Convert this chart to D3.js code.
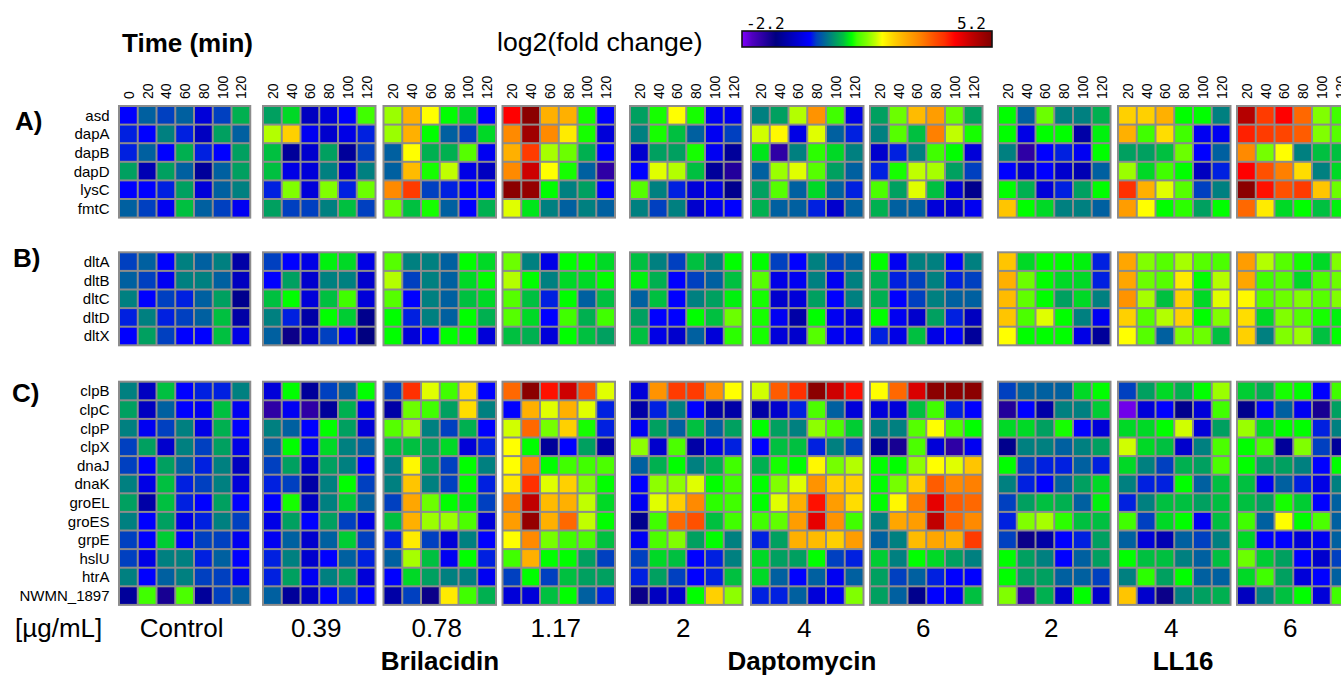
<!DOCTYPE html>
<html>
<head>
<meta charset="utf-8">
<script src="https://cdn.jsdelivr.net/npm/d3@7"></script>
<style>
  html, body { margin: 0; padding: 0; background: #fff; overflow: hidden; }
  svg { display: block; }
</style>
</head>
<body>
<div id="chart"></div>
<script>
// ---------------- DATA ----------------
const genesA = ["asd", "dapA", "dapB", "dapD", "lysC", "fmtC"];
const genesB = ["dltA", "dltB", "dltC", "dltD", "dltX"];
const genesC = ["clpB", "clpC", "clpP", "clpX", "dnaJ", "dnaK", "groEL", "groES", "grpE", "hslU", "htrA", "NWMN_1897"];
const timesControl = [0, 20, 40, 60, 80, 100, 120];
const timesTreated = [20, 40, 60, 80, 100, 120];
const concLabels = ["Control", "0.39", "0.78", "1.17", "2", "4", "6", "2", "4", "6"];
const drugNames = ["Brilacidin", "Daptomycin", "LL16"];
const scaleMin = -2.2, scaleMax = 5.2;

// log2(fold change), rows = genesA, genesB, genesC (23 rows), columns = time points
const control = [
  [-0.2, 0.2, 0.0, 0.2, -0.5, 0.0, 0.7],
  [-0.1, -0.2, 0.4, -0.1, -0.7, 0.6, 0.2],
  [-0.1, 0.2, -0.2, 0.7, -0.1, -0.2, 0.6],
  [0.6, -0.8, 0.6, 0.2, -1.0, 0.2, 0.6],
  [-0.2, -0.2, -0.1, 0.6, -0.5, 0.2, 0.4],
  [0.2, 0.0, -0.3, 0.8, 0.2, 0.0, -0.3],
  [0.0, 0.2, -0.2, 0.4, 0.2, 0.4, -0.9],
  [0.2, 0.0, -0.3, 0.4, 0.4, 0.2, -0.7],
  [0.4, -0.2, 0.0, -0.1, 0.2, 0.6, -1.1],
  [-0.1, 0.4, -0.1, 0.0, 0.2, 0.8, -0.9],
  [-0.2, 0.6, 0.0, -0.2, -0.2, 0.8, -0.4],
  [0.4, -0.7, 0.8, -0.2, -0.1, -0.1, 0.4],
  [0.6, -0.7, 0.2, -0.2, -0.3, 0.8, -0.3],
  [0.4, -0.3, 0.0, 0.4, -0.4, 0.7, -0.2],
  [0.0, 0.6, -0.6, 0.4, 0.0, 0.6, -0.4],
  [0.0, -0.2, 0.6, 0.2, -0.1, 0.4, -0.7],
  [0.4, -0.4, 0.8, -0.1, 0.0, 0.4, -0.5],
  [0.6, -0.9, 0.8, -0.1, -0.2, 0.6, -0.2],
  [0.4, -0.2, 0.6, -0.4, -0.1, 0.4, 0.0],
  [0.0, -0.2, 0.85, -0.2, 0.0, 0.0, -0.3],
  [0.0, -0.4, 0.4, 0.4, -0.1, 0.2, -0.2],
  [0.4, -0.2, 0.2, 0.4, 0.0, 0.0, -0.3],
  [-1.0, 1.2, -1.4, 1.25, -1.0, 0.0, 0.2]
];
const bril039 = [
  [0.6, 0.9, -0.7, -0.5, -0.2, 1.2],
  [1.7, 2.3, -0.3, -0.6, -0.4, -0.1],
  [0.8, -1.0, -0.6, 0.6, -1.0, 0.0],
  [0.8, -0.4, -0.5, 0.4, -0.6, 0.4],
  [-0.1, 1.5, -0.5, 1.5, -0.1, 1.4],
  [0.6, 0.0, 0.0, 0.4, 0.8, 0.0],
  [0.0, -0.2, -0.4, 1.0, 0.9, -0.4],
  [-0.2, 0.6, -0.6, 0.4, 0.4, -0.6],
  [0.8, 1.05, -0.5, 0.8, 1.2, -0.5],
  [0.4, -0.1, -0.9, 1.05, 0.85, -1.1],
  [0.2, -1.3, -0.7, 0.0, -0.3, -1.2],
  [-0.5, 1.05, -1.0, 0.0, 0.2, 1.05],
  [-1.6, -0.3, -1.6, -1.0, 0.7, -0.4],
  [0.4, 0.2, -0.2, 1.05, 0.6, -0.5],
  [0.2, 1.05, -0.3, 0.9, 0.4, 0.2],
  [0.0, 0.6, -0.6, 0.6, 0.4, -0.2],
  [-0.1, 0.0, -0.9, 0.4, 1.05, 0.0],
  [-0.2, 1.1, -0.7, 0.4, 0.85, 0.2],
  [-0.4, 0.6, -0.2, 0.6, 0.0, -0.4],
  [-0.3, 0.2, -0.6, 0.2, 0.85, 0.0],
  [-0.1, 0.4, -0.6, -0.2, 0.2, -0.1],
  [-0.1, 0.6, -0.3, 0.4, 0.6, -0.5],
  [0.2, -1.0, -0.7, -0.2, 0.0, -0.2]
];
const bril078 = [
  [1.6, 2.6, 1.95, 1.05, 0.9, -0.2],
  [1.6, 2.6, 1.05, 0.2, 0.0, 0.9],
  [0.2, 1.95, 0.7, 0.7, 1.3, -0.3],
  [0.2, 2.5, 1.1, 1.75, -0.4, -0.7],
  [3.0, 3.7, 0.0, -0.1, -0.2, -0.2],
  [1.4, 0.8, 1.1, 0.2, -0.2, 0.7],
  [1.3, 0.4, 0.4, 0.2, 1.05, 0.9],
  [1.7, 0.0, 0.4, 0.2, 0.9, 1.05],
  [1.3, -0.2, 0.4, 0.2, 0.8, 0.9],
  [1.05, -0.1, 0.4, 0.2, 1.05, 0.7],
  [1.05, -0.5, -0.2, 1.05, 1.05, -0.5],
  [0.0, 3.8, 1.85, 1.2, 2.2, -0.2],
  [-0.9, 1.4, 1.2, 0.6, 2.2, 0.4],
  [1.3, 1.6, 0.4, 0.0, 0.7, -0.2],
  [0.8, 0.8, 0.6, 0.9, -0.5, -0.1],
  [0.4, 2.0, 0.6, 0.0, 1.05, 0.4],
  [0.4, 2.4, 0.4, 0.0, 1.05, -0.1],
  [0.0, 2.7, 1.4, 1.05, 1.0, 0.0],
  [0.8, 2.6, 1.6, 1.6, 1.25, -0.5],
  [-0.1, 2.1, 0.0, -0.5, 0.4, -0.2],
  [0.2, 1.65, 0.8, -0.3, 1.05, -0.1],
  [-0.2, 0.9, 0.6, 0.4, 0.4, -0.3],
  [-0.9, 0.0, -1.3, 2.1, 1.2, 0.7]
];
const bril117 = [
  [4.1, 5.1, 2.6, 2.6, 1.1, -0.2],
  [3.0, 4.9, 3.0, 2.1, 1.1, -0.5],
  [2.6, 3.7, 1.65, 1.4, 0.7, -0.2],
  [3.0, 4.5, 1.95, 1.1, 0.2, -1.6],
  [5.1, 5.0, 1.05, 0.4, 0.6, -0.2],
  [1.85, 0.95, 0.4, 0.2, 0.4, 0.2],
  [1.4, 0.4, -0.4, 1.05, 1.05, 0.9],
  [1.7, 1.05, 0.4, 0.9, 0.9, 1.05],
  [1.3, 0.8, -0.1, 1.05, 0.2, 0.8],
  [1.3, 0.9, -0.2, 1.2, 0.7, 1.2],
  [0.8, 0.7, -0.5, 1.05, 0.8, 0.6],
  [3.3, 5.1, 4.0, 4.5, 3.5, 1.85],
  [-0.2, 2.6, 1.85, 2.6, 1.85, -0.1],
  [1.8, 3.3, 1.45, 2.3, 1.1, -0.1],
  [1.95, 1.05, -1.0, -0.2, 0.6, -0.9],
  [1.95, 3.0, 1.05, 1.2, 1.2, 1.25],
  [2.1, 3.8, 1.85, 2.3, 1.5, 1.05],
  [3.0, 4.6, 2.5, 2.6, 1.75, 0.9],
  [2.8, 5.0, 2.6, 3.3, 1.75, 1.05],
  [1.95, 3.0, 1.45, 1.2, 1.25, 0.8],
  [1.2, 2.6, 1.05, 1.05, 0.6, 0.0],
  [0.0, 1.05, 0.0, 0.8, 0.6, 0.6],
  [-0.5, -0.5, 0.8, 1.05, 0.2, -0.1]
];
const dapto2 = [
  [0.6, 1.1, 1.95, 1.1, -0.3, -0.3],
  [0.4, 1.1, 0.8, 0.2, -0.3, 0.0],
  [-0.6, 0.6, 0.6, 1.1, -0.3, -1.0],
  [-0.2, 1.85, 1.7, 0.8, -1.0, -1.5],
  [1.3, 0.4, -0.1, -0.5, -0.4, -1.1],
  [0.4, 0.0, 0.4, -0.6, -0.3, -0.2],
  [0.8, 0.4, 0.0, 0.8, 0.4, 1.05],
  [1.0, 0.7, -0.2, 0.0, 0.2, 0.8],
  [0.2, 0.8, -0.2, 0.4, 0.6, 1.0],
  [0.6, -0.2, -0.2, 1.05, 0.8, 1.4],
  [0.8, -0.4, -0.6, 0.2, -0.5, 1.15],
  [-0.5, 2.9, 3.7, 3.7, 2.9, 1.95],
  [-0.9, -0.1, 0.4, -0.2, -0.9, -0.9],
  [-0.3, 0.6, 0.2, 0.8, 0.2, 0.6],
  [1.55, -0.6, 1.25, -0.9, -0.4, -0.1],
  [0.2, 0.7, 1.05, 0.4, 0.7, 1.2],
  [-0.2, 1.55, 1.55, 1.85, 1.05, 1.2],
  [-0.3, 1.85, 2.3, 3.0, 1.15, 1.2],
  [-1.1, 1.2, 3.3, 3.5, 0.8, 1.2],
  [-0.3, 1.25, 1.5, 0.6, 1.05, 0.4],
  [0.0, 0.9, 0.8, -0.2, -0.1, 0.4],
  [-0.1, 0.6, 0.0, -0.2, -0.1, 0.8],
  [-1.3, -0.7, -0.6, 1.05, 2.3, 1.55]
];
const dapto4 = [
  [0.4, 0.6, 1.7, 2.9, 1.2, -0.4],
  [1.8, 2.0, -0.4, 1.85, 0.2, -0.1],
  [0.95, -1.6, 0.4, 1.15, 0.9, 0.4],
  [0.2, 1.6, 1.85, 1.3, 0.6, 0.2],
  [0.6, 1.3, 0.2, 0.9, 0.2, -0.1],
  [0.7, 0.2, 0.2, -0.1, -0.6, 0.2],
  [1.05, 0.0, -0.2, 0.4, 0.0, 0.2],
  [1.3, -0.4, -0.3, 0.4, -0.3, 0.4],
  [1.1, -0.6, -0.5, 0.6, -0.2, 0.4],
  [1.1, -0.3, -0.9, 1.05, -0.3, -0.5],
  [1.1, -0.5, -0.6, 1.3, -0.3, -0.3],
  [1.8, 3.4, 3.8, 5.1, 4.5, 4.0],
  [-0.9, -0.6, -0.1, 1.25, 0.2, -0.5],
  [1.05, 0.6, 0.4, 1.55, 1.25, 0.85],
  [-0.2, 0.8, 0.8, -0.1, 0.4, 0.0],
  [0.7, 1.1, 1.05, 2.0, 1.45, 1.7],
  [1.05, 1.5, 1.85, 2.9, 2.3, 2.3],
  [1.05, 1.85, 2.6, 4.0, 2.8, 2.2],
  [1.2, 1.35, 2.8, 4.3, 2.9, 1.2],
  [-0.1, 0.6, 2.6, 2.5, 2.3, 2.8],
  [0.9, 0.6, 0.6, 1.05, 0.0, -0.1],
  [0.9, 0.2, -0.2, 0.2, -0.3, 0.2],
  [-0.1, -0.1, 0.2, -0.5, -0.3, 1.5]
];
const dapto6 = [
  [0.6, 1.4, 2.5, 2.8, 1.4, 0.6],
  [0.4, 1.3, 0.8, 3.1, 1.75, 1.1],
  [-0.6, -0.1, 0.4, 1.2, 1.05, -0.5],
  [-0.1, 1.1, 1.75, 1.65, 0.6, 0.0],
  [1.25, 0.6, 1.85, 0.8, -0.5, -1.1],
  [0.7, 0.2, 0.2, -0.5, -0.6, -0.3],
  [1.05, -0.3, 0.4, 0.4, -0.2, 0.4],
  [0.7, -0.1, 0.0, 0.4, -0.1, 0.0],
  [0.7, -0.2, 0.0, 0.4, 0.2, 0.2],
  [1.05, -0.3, -0.6, 0.6, -0.1, -0.7],
  [-0.1, -0.4, 0.8, -0.4, -0.2, -1.0],
  [1.95, 3.3, 4.4, 5.1, 5.1, 5.1],
  [-0.5, -0.5, 0.8, 1.2, -0.1, -0.2],
  [0.4, 0.4, 1.3, 1.95, 1.25, 1.05],
  [-1.0, -1.4, 1.25, -0.5, -1.6, -0.3],
  [1.05, 1.05, 1.55, 1.95, 1.85, 2.4],
  [1.05, 1.45, 2.3, 3.4, 3.0, 3.1],
  [1.05, 2.0, 3.1, 4.3, 3.4, 3.3],
  [0.4, 2.7, 2.8, 4.6, 3.3, 3.0],
  [0.2, 0.4, 2.5, 2.7, 2.6, 3.7],
  [0.85, 0.4, 1.05, 0.9, 0.6, 0.4],
  [0.6, 0.0, 0.2, -0.1, -0.2, -0.2],
  [0.6, 0.2, -1.1, -0.2, -0.3, 0.8]
];
const ll16_2 = [
  [1.05, 0.2, 1.4, 0.4, 0.4, 0.7],
  [1.05, -0.4, 1.05, 1.05, -0.9, 1.0],
  [0.4, -1.6, -0.2, -0.1, -0.3, 1.05],
  [-0.2, -0.6, -0.2, -0.6, -0.8, 0.2],
  [1.05, 0.7, -0.5, -0.1, 0.6, 1.05],
  [2.4, 1.05, 0.9, 0.4, 0.4, 0.2],
  [2.4, 0.9, 1.05, 1.05, 1.0, -0.1],
  [2.6, 1.4, 1.05, 0.9, 0.9, -0.1],
  [2.5, 1.35, 1.05, 0.6, 0.9, 0.4],
  [2.4, 1.25, 1.85, 1.05, 0.4, -0.3],
  [1.95, 1.05, 1.05, 1.05, -0.4, -1.0],
  [0.0, 0.2, 0.2, 0.2, 0.9, 1.05],
  [-1.5, -0.2, -0.9, 0.4, 0.4, 0.85],
  [0.9, 0.9, 0.6, 1.1, -0.2, -0.5],
  [-1.1, 0.4, 0.4, 0.2, 0.4, 0.6],
  [1.05, 0.0, -0.1, -0.1, 0.2, -0.1],
  [0.4, -0.1, -0.2, 0.2, 0.6, 0.9],
  [0.0, 0.6, 0.8, 0.7, 0.2, 1.0],
  [-0.1, 1.5, 1.65, 1.15, 0.8, 0.8],
  [0.0, -1.3, -0.9, -0.2, -0.1, 0.6],
  [1.05, 0.6, 0.4, -0.2, 0.2, 0.6],
  [1.05, 0.6, 0.6, 0.2, 0.2, 0.0],
  [1.5, -1.6, 0.7, -0.6, 1.05, -0.6]
];
const ll16_4 = [
  [2.3, 2.3, 2.6, 1.05, 1.05, 0.4],
  [2.6, 1.2, 2.2, 1.2, -0.3, -0.3],
  [0.6, 0.6, 0.8, 1.4, -0.2, 0.2],
  [1.6, 0.9, 1.2, 1.05, -0.7, -0.1],
  [3.8, 2.6, 1.85, 1.3, 0.0, 0.4],
  [2.8, 1.95, 1.05, 1.15, 0.6, 1.05],
  [2.7, 1.5, 1.3, 1.65, 1.3, 1.25],
  [2.7, 1.4, 1.3, 2.1, 1.05, 1.7],
  [2.9, 1.65, 0.8, 2.3, 0.9, 1.85],
  [2.3, 1.3, 1.7, 2.3, 1.05, 1.5],
  [1.95, 1.3, 0.2, 1.5, 1.4, 0.8],
  [0.0, 0.6, 0.9, 0.7, 1.05, 1.6],
  [-2.1, -0.5, -0.2, -1.1, -0.5, 1.2],
  [0.9, 0.9, 1.05, 1.8, -0.5, 0.6],
  [1.8, 0.9, 0.8, -0.6, 0.4, 1.25],
  [0.9, 0.4, 0.0, 0.7, 0.6, 1.25],
  [0.4, -0.1, -0.1, 1.05, 0.2, 0.8],
  [-0.1, 0.4, 0.8, 0.8, 0.6, 0.8],
  [1.2, 0.0, 0.9, 1.05, -0.3, 0.8],
  [0.2, -0.5, -0.8, 0.2, 0.0, 0.4],
  [1.05, 0.8, 0.8, 0.4, 0.2, 0.8],
  [0.4, 1.15, 0.6, 1.05, 0.2, 0.2],
  [2.4, -0.6, -1.3, 0.4, 0.6, 0.7]
];
const ll16_6 = [
  [4.7, 3.7, 4.1, 3.3, 1.5, 1.2],
  [3.9, 3.7, 3.6, 3.4, 1.5, 1.3],
  [3.0, 1.45, 1.95, 0.4, 0.8, 0.8],
  [4.1, 3.5, 3.1, 2.2, 0.4, 0.9],
  [5.1, 4.0, 3.5, 3.7, 2.4, 1.4],
  [3.3, 2.1, 0.9, 1.05, 0.8, 1.0],
  [2.8, 1.7, 1.3, 1.1, 0.9, 1.5],
  [2.7, 1.2, 1.3, 0.9, 1.25, 1.4],
  [2.0, 1.3, 1.4, 1.5, 1.3, 1.5],
  [2.2, 0.9, 1.5, 1.3, 1.1, 1.0],
  [2.3, 0.4, 1.5, 1.6, 0.8, 1.05],
  [0.85, 0.7, 1.1, 1.05, -0.2, 1.2],
  [-1.1, -0.2, 0.2, -0.3, -1.4, 0.6],
  [1.6, 0.9, 1.05, 1.05, -0.1, 0.4],
  [1.05, 1.25, -1.0, 1.5, 0.0, -1.0],
  [1.05, 0.6, 0.6, 0.4, -0.2, 1.05],
  [0.8, -0.3, 0.2, -0.1, -0.4, 0.4],
  [0.8, 0.6, 1.1, 0.85, -0.2, 0.2],
  [1.2, 0.2, 1.95, 1.05, 1.25, 0.2],
  [0.9, -0.2, -0.2, -0.5, -0.3, 0.2],
  [1.4, 0.85, 0.6, -0.2, -0.6, 0.0],
  [0.9, 1.2, 0.6, -0.5, -0.2, 0.2],
  [-0.7, 0.4, 0.8, 1.05, -0.5, 1.2]
];

// ---------------- LAYOUT / STYLE ----------------
const W = 1341, H = 675;
const panelData = [control, bril039, bril078, bril117, dapto2, dapto4, dapto6, ll16_2, ll16_4, ll16_6];
const panelLeft = [119, 263, 383.5, 502.5, 630, 751, 870, 998, 1118, 1237];
const colPitch = 18.75;
const rowPitch = 18.6;
const sections = [
  { label: "A)", genes: genesA, top: 106, labelX: 15, labelY: 129.5, offset: 0 },
  { label: "B)", genes: genesB, top: 252.3, labelX: 13, labelY: 266.5, offset: genesA.length },
  { label: "C)", genes: genesC, top: 381.7, labelX: 12, labelY: 401.5, offset: genesA.length + genesB.length }
];
const drugGroups = [
  { name: drugNames[0], cx: 440 },
  { name: drugNames[1], cx: 802 },
  { name: drugNames[2], cx: 1183 }
];
const stopValues = [-2.2, -1.9, -1.2, -0.7, -0.2, 0.0, 0.2, 0.4, 0.6, 0.8, 1.05, 1.2, 1.5, 1.75, 1.95, 2.3, 2.6, 3.1, 3.5, 3.8, 4.1, 4.6, 5.2];
const stopColors = ["#8000ff", "#5000c0", "#000080", "#0000c0", "#0000ff", "#0040c0", "#0060a0", "#008080", "#00a060", "#00c040", "#00ff00", "#40ff00", "#80ff00", "#c0ff00", "#ffff00", "#ffd000", "#ffb000", "#ff8000", "#ff5000", "#ff3000", "#ff0000", "#c00000", "#800000"];
const color = d3.scaleLinear().domain(stopValues).range(stopColors).interpolate(d3.interpolateRgb).clamp(true);
const gridGray = "#8c8c8c";
const FONT = "'Liberation Sans', Arial, sans-serif";

const svg = d3.select("#chart").append("svg")
  .attr("width", W).attr("height", H)
  .style("font-family", FONT);
svg.append("rect").attr("width", W).attr("height", H).attr("fill", "#fff");

// ---------------- HEADER ----------------
svg.append("text").attr("x", 122).attr("y", 52)
  .attr("font-size", 26).attr("font-weight", "bold").text("Time (min)");
svg.append("text").attr("x", 497).attr("y", 51)
  .attr("font-size", 26.6).text("log2(fold change)");

// colour bar
const cbX = 742, cbY = 31, cbW = 250, cbH = 16;
const defs = svg.append("defs");
const grad = defs.append("linearGradient").attr("id", "cbgrad").attr("x1", "0%").attr("x2", "100%");
stopValues.forEach((v, i) => {
  grad.append("stop").attr("offset", ((v - scaleMin) / (scaleMax - scaleMin) * 100) + "%").attr("stop-color", stopColors[i]);
});
const cbScale = d3.scaleLinear().domain([scaleMin, scaleMax]).range([cbX, cbX + cbW]);
svg.append("rect").attr("x", cbScale(scaleMin)).attr("y", cbY).attr("width", cbScale(scaleMax) - cbScale(scaleMin)).attr("height", cbH)
  .attr("fill", "url(#cbgrad)").attr("stroke", "#111").attr("stroke-width", 1.6);
svg.append("text").attr("x", cbScale(scaleMin) + 4).attr("y", 29).attr("font-size", 16)
  .attr("font-family", "'DejaVu Sans Mono', monospace").text(scaleMin.toFixed(1));
svg.append("text").attr("x", cbScale(scaleMax) - 6).attr("y", 29).attr("font-size", 16).attr("text-anchor", "end")
  .attr("font-family", "'DejaVu Sans Mono', monospace").text(scaleMax.toFixed(1));

// ---------------- PANELS ----------------
panelData.forEach((mat, p) => {
  const times = p === 0 ? timesControl : timesTreated;
  const x0 = panelLeft[p];
  const xs = d3.scaleBand().domain(times).range([x0, x0 + times.length * colPitch]);
  const g = svg.append("g");

  // time tick labels (rotated, reading upward, starting just above the panel)
  g.selectAll("text.tick").data(times).join("text")
    .attr("class", "tick")
    .attr("transform", d => `translate(${xs(d) + xs.bandwidth() / 2 + 0.5},99) rotate(-90)`)
    .attr("text-anchor", "start").attr("dy", "0.36em")
    .attr("font-size", 14).text(d => d);

  sections.forEach(sec => {
    const ys = d3.scaleBand().domain(sec.genes).range([sec.top, sec.top + sec.genes.length * rowPitch]);
    g.append("rect")
      .attr("x", x0 - 1).attr("y", sec.top - 1)
      .attr("width", times.length * colPitch + 2).attr("height", sec.genes.length * rowPitch + 2)
      .attr("fill", gridGray);
    const cells = [];
    sec.genes.forEach((gene, r) => {
      times.forEach((t, c) => cells.push({ gene, t, v: mat[sec.offset + r][c] }));
    });
    g.selectAll(null).data(cells).join("rect")
      .attr("x", d => xs(d.t) + 1).attr("y", d => ys(d.gene) + 1)
      .attr("width", xs.bandwidth() - 2).attr("height", ys.bandwidth() - 2)
      .attr("fill", d => color(d.v));
  });

  // concentration label
  svg.append("text").attr("x", x0 + times.length * colPitch / 2 - 3).attr("y", 637)
    .attr("text-anchor", "middle").attr("font-size", 26).text(concLabels[p]);
});

// row labels & section labels
sections.forEach(sec => {
  const ys = d3.scaleBand().domain(sec.genes).range([sec.top, sec.top + sec.genes.length * rowPitch]);
  svg.append("g").selectAll("text").data(sec.genes).join("text")
    .attr("x", 109.5).attr("y", d => ys(d) + ys.bandwidth() / 2)
    .attr("dy", "0.36em").attr("text-anchor", "end").attr("font-size", 15).text(d => d);
  svg.append("text").attr("x", sec.labelX).attr("y", sec.labelY)
    .attr("font-size", 26).attr("font-weight", "bold").text(sec.label);
});

svg.append("text").attr("x", 15).attr("y", 637).attr("font-size", 26).text("[µg/mL]");
drugGroups.forEach(dg => {
  svg.append("text").attr("x", dg.cx).attr("y", 670).attr("text-anchor", "middle")
    .attr("font-size", 26).attr("font-weight", "bold").text(dg.name);
});
</script>
</body>
</html>
